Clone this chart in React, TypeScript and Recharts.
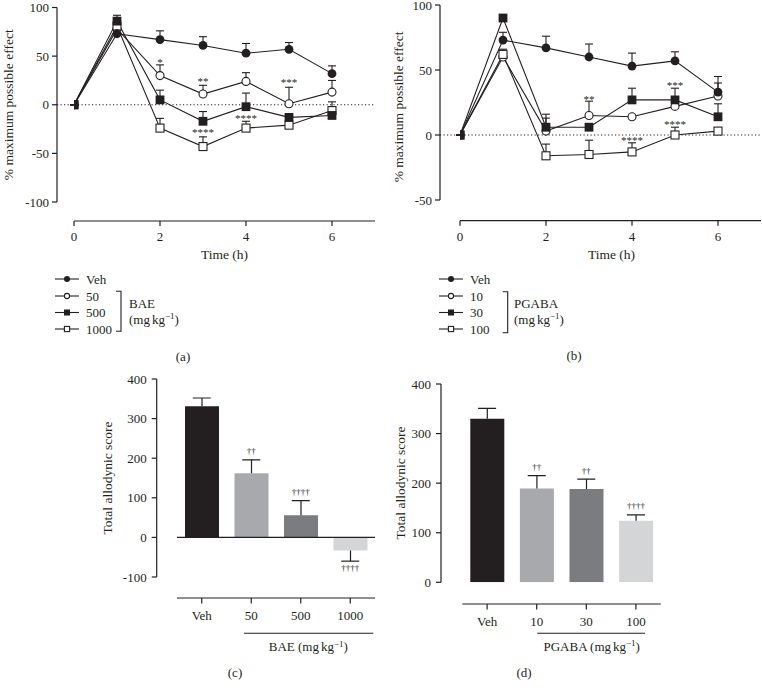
import React from 'react';
import { ComposedChart, Line, Bar, Cell, Scatter, XAxis, YAxis, ErrorBar, ReferenceLine } from 'recharts';

const FONT = '"Liberation Serif", "Times New Roman", Times, serif';
const INK = '#231f20';

// ---------- Panel (a): BAE time course ----------
const timeA = [0, 1, 2, 3, 4, 5, 6];
const vehA = [0, 73, 67, 61, 53, 57, 32];
const vehAErr = [0, 0, 9, 9, 10, 7, 8];
const bae50 = [0, 78, 30, 11, 24, 1, 13];
const bae50Err = [0, 0, 11, 9, 9, 17, 12];
const bae500 = [0, 86, 5, -17, -2, -13, -11];
const bae500Err = [0, 6, 10, 10, 14, 0, 0];
const bae1000 = [0, 81, -24, -43, -24, -21, -6];
const bae1000Err = [0, 0, 10, 10, 7, 0, 9];
const starTimeA = [2, 3, 3, 4, 5];
const starPosA = [46, 26, -26, -12, 25];
const starTextA = ['*', '**', '****', '****', '***'];
const legendA = ['Veh', '50', '500', '1000'];

// ---------- Panel (b): PGABA time course ----------
const timeB = [0, 1, 2, 3, 4, 5, 6];
const vehB = [0, 73, 67, 60, 53, 57, 33];
const vehBErr = [0, 6, 9, 10, 10, 7, 7];
const pg10 = [0, 60, 3, 15, 14, 22, 30];
const pg10Err = [0, 0, 10, 11, 0, 0, 15];
const pg30 = [0, 90, 6, 6, 27, 27, 14];
const pg30Err = [0, 0, 10, 0, 9, 9, 10];
const pg100 = [0, 62, -16, -15, -13, 0, 3];
const pg100Err = [0, 4, 9, 11, 7, 6, 0];
const starTimeB = [3, 4, 5, 5];
const starPosB = [29, -2.5, 40, 10];
const starTextB = ['**', '****', '***', '****'];
const legendB = ['Veh', '10', '30', '100'];

// ---------- Panels (c), (d): total allodynic score ----------
const catsC = ['Veh', '50', '500', '1000'];
const scoreC = [331, 162, 56, -33];
const semC = [21, 34, 37, 27];
const daggerC = ['', '\u2020\u2020', '\u2020\u2020\u2020\u2020', '\u2020\u2020\u2020\u2020'];
const catsD = ['Veh', '10', '30', '100'];
const scoreD = [330, 189, 188, 124];
const semD = [21, 26, 20, 12];
const daggerD = ['', '\u2020\u2020', '\u2020\u2020', '\u2020\u2020\u2020\u2020'];
const barColors = ['#231f20', '#a7a9ac', '#7b7c7f', '#d4d5d6'];

const markerKinds = ['fc', 'oc', 'fs', 'os'];

const FS = 13;
const tickStyle = { fill: INK, fontSize: FS, fontFamily: FONT };
const titleStyle = { fill: INK, fontSize: 13.5, fontFamily: FONT };

function Marker({ kind, cx, cy, size }: any) {
  const h = size / 2;
  if (kind === 'fc') return <circle cx={cx} cy={cy} r={h} fill={INK} />;
  if (kind === 'oc') return <circle cx={cx} cy={cy} r={h - 0.4} fill="#fff" stroke={INK} strokeWidth={1.1} />;
  if (kind === 'fs') return <rect x={cx - h} y={cy - h} width={size} height={size} fill={INK} />;
  return <rect x={cx - h + 0.4} y={cy - h + 0.4} width={size - 0.8} height={size - 0.8} fill="#fff" stroke={INK} strokeWidth={1.1} />;
}

const dotFor = (kind: string) => (p: any) => {
  if (p.cx == null || p.cy == null) return <g key={`n${p.index}`} />;
  return (
    <g key={`d${p.index}`}>
      <Marker kind={kind} cx={p.cx} cy={p.cy} size={8.8} />
    </g>
  );
};

const StarShape = (p: any) => {
  if (p.cx == null || p.cy == null) return <g />;
  return (
    <text x={p.cx} y={p.cy + 5.8} textAnchor="middle" fontSize={11} fontFamily={FONT} fill={INK}>
      {p.payload.s}
    </text>
  );
};

const CapShape = (p: any) => {
  if (p.cx == null || p.cy == null) return <g />;
  const down = p.payload.v < 0;
  return (
    <g>
      <line x1={p.cx - 9} x2={p.cx + 9} y1={p.cy} y2={p.cy} stroke={INK} strokeWidth={1.2} />
      {p.payload.sig ? (
        <text x={p.cx} y={down ? p.cy + 10 : p.cy - 5.5} textAnchor="middle" fontSize={9} fontFamily={FONT} fill={INK}>
          {p.payload.sig}
        </text>
      ) : null}
    </g>
  );
};

function buildTimeData(times: number[], series: { key: string; vals: number[]; errs: number[] }[]) {
  return times.map((t, i) => {
    const row: any = { t };
    series.forEach((s) => {
      row[s.key] = s.vals[i];
      row[s.key + 'E'] = [0, s.errs[i]];
    });
    return row;
  });
}

function TimeCourse(props: any) {
  const { data, series, stars, yDomain, yTicks, width, height, top, yWidth, padLeft, plotBottom, padBottom, rightMargin, yTitleOffset, yTitleDy, xTitleDx } = props;
  const plotH = plotBottom - top;
  const plotW = width - rightMargin - yWidth;
  return (
    <ComposedChart width={width} height={height} data={data} margin={{ top, right: rightMargin, left: 0, bottom: 0 }}>
      <ReferenceLine y={0} stroke={INK} strokeWidth={1} strokeDasharray="1.2 2.3" />
      <XAxis
        type="number"
        dataKey="t"
        domain={[0, 7]}
        ticks={[0, 2, 4, 6]}
        interval={0}
        allowDataOverflow
        padding={{ left: padLeft, right: 0 }}
        height={height - plotBottom}
        stroke={INK}
        axisLine={{ stroke: INK, strokeWidth: 1.2, strokeDasharray: `0 ${padLeft} ${plotW + 10}` }}
        tickLine={{ stroke: INK, strokeWidth: 1.2 }}
        tickSize={5}
        tickMargin={6}
        tick={tickStyle}
        label={{ value: 'Time (h)', position: 'insideBottom', offset: 9.5, dx: xTitleDx, style: titleStyle }}
      />
      <YAxis
        type="number"
        domain={yDomain}
        ticks={yTicks}
        interval={0}
        allowDataOverflow
        width={yWidth}
        padding={{ top: 0, bottom: padBottom }}
        stroke={INK}
        axisLine={{ stroke: INK, strokeWidth: 1.2, strokeDasharray: `${plotH - padBottom} ${plotH + 10}` }}
        tickLine={{ stroke: INK, strokeWidth: 1.2 }}
        tickSize={5}
        tickMargin={3}
        tick={tickStyle}
        label={{
          value: '% maximum possible effect',
          angle: -90,
          position: 'insideLeft',
          offset: yTitleOffset,
          dy: yTitleDy,
          style: { ...titleStyle, textAnchor: 'middle' },
        }}
      />
      {series.map((s: any) => (
        <Line
          key={'e' + s.key}
          dataKey={s.key}
          stroke="none"
          dot={false}
          activeDot={false}
          legendType="none"
          isAnimationActive={false}
        >
          <ErrorBar dataKey={s.key + 'E'} direction="y" width={4} stroke={INK} strokeWidth={1.1} />
        </Line>
      ))}
      {series.map((s: any) => (
        <Line
          key={s.key}
          type="linear"
          dataKey={s.key}
          stroke={INK}
          strokeWidth={1.1}
          dot={dotFor(s.kind)}
          activeDot={false}
          isAnimationActive={false}
        />
      ))}
      <Scatter data={stars} dataKey="y" shape={StarShape} isAnimationActive={false} />
    </ComposedChart>
  );
}

function buildScoreData(cats: string[], vals: number[], sems: number[], sig: string[]) {
  return cats.map((c, i) => ({
    cat: c,
    v: vals[i],
    e: vals[i] >= 0 ? [0, sems[i]] : [sems[i], 0],
    cap: vals[i] >= 0 ? vals[i] + sems[i] : vals[i] - sems[i],
    sig: sig[i],
  }));
}

function ScorePanel(props: any) {
  const { data, width, height, top, yWidth, padLeft, plotBottom, padBottom, rightMargin, yDomain, yTicks, yTitleOffset, yTitleDy, zeroLine } = props;
  const plotH = plotBottom - top;
  const plotW = width - rightMargin - yWidth;
  return (
    <ComposedChart width={width} height={height} data={data} margin={{ top, right: rightMargin, left: 0, bottom: 0 }}>
      <XAxis
        dataKey="cat"
        type="category"
        interval={0}
        padding={{ left: padLeft, right: 0 }}
        height={height - plotBottom}
        stroke={INK}
        axisLine={{ stroke: INK, strokeWidth: 1.2, strokeDasharray: `0 ${padLeft} ${plotW + 10}` }}
        tickLine={{ stroke: INK, strokeWidth: 1.2 }}
        tickSize={5.5}
        tickMargin={7}
        tick={tickStyle}
      />
      <YAxis
        type="number"
        domain={yDomain}
        ticks={yTicks}
        interval={0}
        allowDataOverflow
        width={yWidth}
        padding={{ top: 0, bottom: padBottom }}
        stroke={INK}
        axisLine={{ stroke: INK, strokeWidth: 1.2, strokeDasharray: `${plotH - padBottom} ${plotH + 10}` }}
        tickLine={{ stroke: INK, strokeWidth: 1.2 }}
        tickSize={5}
        tickMargin={5}
        tick={tickStyle}
        label={{
          value: 'Total allodynic score',
          angle: -90,
          position: 'insideLeft',
          offset: yTitleOffset,
          dy: yTitleDy,
          style: { ...titleStyle, textAnchor: 'middle' },
        }}
      />
      <Bar dataKey="v" barSize={34} isAnimationActive={false}>
        {data.map((d: any, i: number) => (
          <Cell key={d.cat} fill={barColors[i]} />
        ))}
        <ErrorBar dataKey="e" direction="y" width={0} stroke={INK} strokeWidth={1.2} />
      </Bar>
      {zeroLine ? <ReferenceLine y={0} stroke={INK} strokeWidth={1.2} strokeDasharray={`0 ${padLeft} ${plotW + 10}`} /> : null}
      <Scatter dataKey="cap" shape={CapShape} isAnimationActive={false} />
    </ComposedChart>
  );
}

function UnitText({ x, y, anchor }: any) {
  return (
    <text x={x} y={y} fontSize={FS} fontFamily={FONT} fill={INK} textAnchor={anchor || 'start'}>
      (mg<tspan dx={2}>kg</tspan>
      <tspan dy={-4.5} fontSize={9}>{'\u22121'}</tspan>
      <tspan dy={4.5}>)</tspan>
    </text>
  );
}

function SeriesKey({ x0, textX, rows, names, bracketX, bracketTop, bracketBottom, group, groupX, groupY, unitY }: any) {
  return (
    <g>
      {names.map((n: string, i: number) => (
        <g key={n}>
          <line x1={x0} x2={x0 + 24} y1={rows[i]} y2={rows[i]} stroke={INK} strokeWidth={1.1} />
          <Marker kind={markerKinds[i]} cx={x0 + 12} cy={rows[i]} size={6} />
          <text x={textX} y={rows[i] + 4.5} fontSize={FS} fontFamily={FONT} fill={INK}>
            {n}
          </text>
        </g>
      ))}
      <path
        d={`M${bracketX - 5},${bracketTop} H${bracketX} V${bracketBottom} H${bracketX - 5}`}
        fill="none"
        stroke={INK}
        strokeWidth={1.1}
      />
      <text x={groupX} y={groupY} fontSize={FS} fontFamily={FONT} fill={INK}>
        {group}
      </text>
      <UnitText x={groupX} y={unitY} />
    </g>
  );
}

function GroupLabel({ x1, x2, lineY, textX, textY, name }: any) {
  return (
    <g>
      <line x1={x1} x2={x2} y1={lineY} y2={lineY} stroke={INK} strokeWidth={1.1} />
      <text x={textX} y={textY} fontSize={FS} fontFamily={FONT} fill={INK} textAnchor="middle">
        {name} (mg<tspan dx={2}>kg</tspan>
        <tspan dy={-4.5} fontSize={9}>{'\u22121'}</tspan>
        <tspan dy={4.5}>)</tspan>
      </text>
    </g>
  );
}

export default function App() {
  const seriesA = [
    { key: 'b50', vals: bae50, errs: bae50Err, kind: 'oc' },
    { key: 'b1000', vals: bae1000, errs: bae1000Err, kind: 'os' },
    { key: 'veh', vals: vehA, errs: vehAErr, kind: 'fc' },
    { key: 'b500', vals: bae500, errs: bae500Err, kind: 'fs' },
  ];
  const seriesB = [
    { key: 'p10', vals: pg10, errs: pg10Err, kind: 'oc' },
    { key: 'p100', vals: pg100, errs: pg100Err, kind: 'os' },
    { key: 'veh', vals: vehB, errs: vehBErr, kind: 'fc' },
    { key: 'p30', vals: pg30, errs: pg30Err, kind: 'fs' },
  ];
  const dataA = buildTimeData(timeA, seriesA);
  const dataB = buildTimeData(timeB, seriesB);
  const starsA = starTimeA.map((t, i) => ({ t, y: starPosA[i], s: starTextA[i] }));
  const starsB = starTimeB.map((t, i) => ({ t, y: starPosB[i], s: starTextB[i] }));
  const dataC = buildScoreData(catsC, scoreC, semC, daggerC);
  const dataD = buildScoreData(catsD, scoreD, semD, daggerD);

  return (
    <div style={{ position: 'absolute', left: 0, top: 0, width: 762, height: 691, background: '#fff', overflow: 'hidden', opacity: 0.999 }}>
      <div style={{ position: 'absolute', left: 0, top: 0 }}>
        <TimeCourse
          data={dataA}
          series={seriesA}
          stars={starsA}
          yDomain={[-100, 100]}
          yTicks={[-100, -50, 0, 50, 100]}
          width={380}
          height={268}
          top={7.5}
          yWidth={57}
          padLeft={17}
          plotBottom={221}
          padBottom={19}
          rightMargin={5}
          yTitleOffset={8.5}
          yTitleDy={-9.5}
          xTitleDx={8.5}
        />
      </div>
      <div style={{ position: 'absolute', left: 380, top: 0 }}>
        <TimeCourse
          data={dataB}
          series={seriesB}
          stars={starsB}
          yDomain={[-50, 100]}
          yTicks={[-50, 0, 50, 100]}
          width={382}
          height={268}
          top={5}
          yWidth={60}
          padLeft={20}
          plotBottom={220.7}
          padBottom={20.7}
          rightMargin={1}
          yTitleOffset={18}
          yTitleDy={-6}
          xTitleDx={11}
        />
      </div>
      <div style={{ position: 'absolute', left: 90, top: 370 }}>
        <ScorePanel
          data={dataC}
          width={300}
          height={260}
          top={9}
          yWidth={66.7}
          padLeft={20.3}
          plotBottom={228}
          padBottom={21}
          rightMargin={15}
          yDomain={[-100, 400]}
          yTicks={[-100, 0, 100, 200, 300, 400]}
          yTitleOffset={17.5}
          yTitleDy={-10.5}
          zeroLine
        />
      </div>
      <div style={{ position: 'absolute', left: 380, top: 370 }}>
        <ScorePanel
          data={dataD}
          width={382}
          height={260}
          top={14}
          yWidth={61}
          padLeft={21.3}
          plotBottom={234}
          padBottom={21.7}
          rightMargin={101.3}
          yDomain={[0, 400]}
          yTicks={[0, 100, 200, 300, 400]}
          yTitleOffset={20}
          yTitleDy={-11}
        />
      </div>
      <svg width={762} height={691} style={{ position: 'absolute', left: 0, top: 0, pointerEvents: 'none' }}>
        <SeriesKey
          x0={55}
          textX={86}
          rows={[279, 296, 312.5, 329]}
          names={legendA}
          bracketX={121}
          bracketTop={291.3}
          bracketBottom={331.3}
          group="BAE"
          groupX={129}
          groupY={307.5}
          unitY={323.5}
        />
        <SeriesKey
          x0={439}
          textX={470}
          rows={[279, 296, 312.5, 329]}
          names={legendB}
          bracketX={507.7}
          bracketTop={291.7}
          bracketBottom={332.7}
          group="PGABA"
          groupX={514}
          groupY={308}
          unitY={323.5}
        />
        <text x={183} y={361} fontSize={FS} fontFamily={FONT} fill={INK} textAnchor="middle">(a)</text>
        <text x={574} y={360} fontSize={FS} fontFamily={FONT} fill={INK} textAnchor="middle">(b)</text>
        <GroupLabel x1={244} x2={373.3} lineY={633.3} textX={308.3} textY={651} name="BAE" />
        <GroupLabel x1={537.3} x2={645} lineY={633.3} textX={591.7} textY={650.7} name="PGABA" />
        <text x={235} y={677} fontSize={FS} fontFamily={FONT} fill={INK} textAnchor="middle">(c)</text>
        <text x={524} y={677} fontSize={FS} fontFamily={FONT} fill={INK} textAnchor="middle">(d)</text>
      </svg>
    </div>
  );
}
